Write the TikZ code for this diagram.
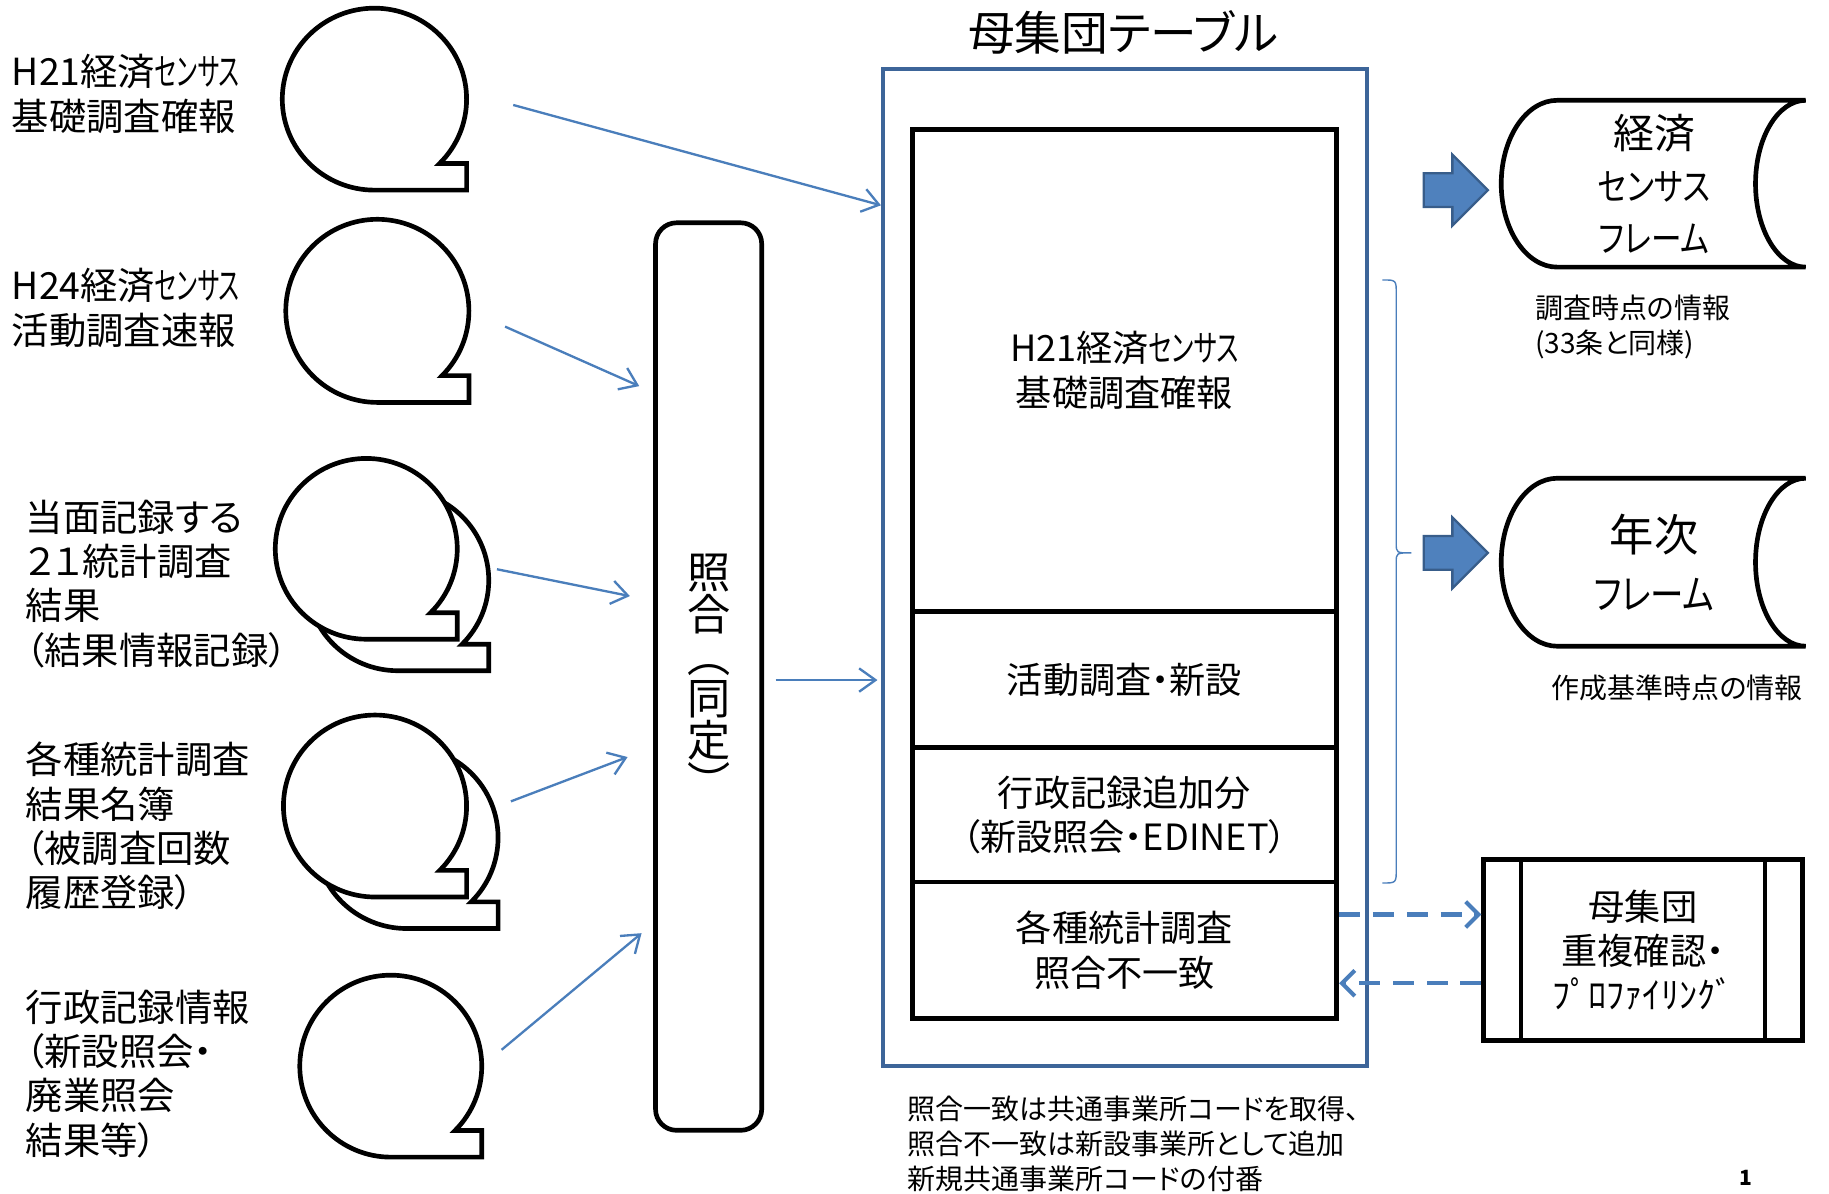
\documentclass[tikz,border=0pt]{standalone}
\usepackage{fontspec}
\usepackage{graphicx}
\setmainfont{Noto Sans CJK JP}[RawFeature=+palt]
\usetikzlibrary{arrows.meta,shapes.arrows}
\definecolor{linkblue}{RGB}{74,126,187}
\definecolor{tableblue}{RGB}{61,101,153}
\definecolor{fillblue}{RGB}{79,129,189}
\definecolor{edgeblue}{RGB}{56,93,138}
\newcommand{\fsz}[2]{\fontsize{#1pt}{#2pt}\selectfont}
\newcommand{\kanacond}[2][0.75]{\scalebox{#1}[1]{#2}}
% speech bubble: centre x, centre y, x radius, y radius
\newcommand{\drawbubble}[4]{%
  \draw[bubble] (#1,#2) ++(45:#3 and #4)
    arc[start angle=45, end angle=-270, x radius=#3, y radius=#4]
    -- ++(#3,0) -- ++(0,-0.2929*#4) -- cycle;}
% stored data frame: top y, bottom y, half height
\newcommand{\drawframe}[3]{%
  \draw[line width=4pt] (1335,#1) -- (1548,#1)
    arc[start angle=270, end angle=90, x radius=43, y radius=#3]
    -- (1335,#2) arc[start angle=90, end angle=270, x radius=48, y radius=#3] -- cycle;}
\begin{document}
\begin{tikzpicture}[x=1pt,y=1pt,yscale=-1,
    arrow/.style = {linkblue, line width=2pt, -{Straight Barb[length=14pt,width=20pt]}},
    dasharrow/.style = {linkblue, line width=3.5pt, dash pattern=on 18pt off 11pt,
      -{Straight Barb[length=11pt,width=22pt]}},
    bubble/.style = {line width=4pt, fill=white, line join=miter},
    cell/.style = {draw, line width=4pt, minimum width=364pt, align=center, font=\fsz{31}{38}},
    srclabel/.style = {anchor=west, inner sep=0pt, align=left, font=\fsz{32}{38}},
    notetext/.style = {anchor=west, inner sep=0pt, align=left, font=\fsz{24}{30}},
    bigarrow/.style = {single arrow, draw=edgeblue, fill=fillblue, line width=2pt,
      inner xsep=0pt, inner ysep=13.5pt, single arrow head extend=16pt,
      minimum height=55pt, anchor=tip}]
  \useasboundingbox (0,0) rectangle (1568,1023);

  \node[srclabel] (src1) at (10,80.5) {H21経済\kanacond[0.62]{センサス}\\基礎調査確報};
  \node[srclabel] (src2) at (10,264) {H24経済\kanacond[0.62]{センサス}\\活動調査速報};
  \node[srclabel] (src3) at (22,500.5) {当面記録する\\２１統計調査\\結果\\（結果情報記録）};
  \node[srclabel] (src4) at (22,708.5) {各種統計調査\\結果名簿\\（被調査回数\\履歴登録）};
  \node[srclabel] (src5) at (22,920.5) {行政記録情報\\（新設照会・\\廃業照会\\結果等）};

  \drawbubble{321}{85}{79}{78}
  \drawbubble{323.5}{266.5}{78.5}{78.5}
  \drawbubble{341}{497.5}{78}{77.5}
  \drawbubble{314}{470.5}{78}{77.5}
  \drawbubble{348.5}{718}{78.5}{78}
  \drawbubble{321.5}{691}{78.5}{78}
  \drawbubble{335}{914}{78}{78}

  \node[draw, line width=4pt, rounded corners=18pt, minimum width=91pt, minimum height=778pt,
    align=center, font=\fsz{37}{36}] (match) at (607.5,580) {照\\合\\︵\\同\\定\\︶};

  \node[font=\fsz{40}{44}] (title) at (963,28) {母集団テーブル};
  \node[draw=tableblue, line width=3.5pt, minimum width=415pt, minimum height=855pt] (tab) at (964.5,486.5) {};
  \node[cell, minimum height=413pt] (cell1) at (964,317.5) {H21経済\kanacond[0.68]{センサス}\\基礎調査確報};
  \node[cell, minimum height=117pt] (cell2) at (964,582.5) {活動調査・新設};
  \node[cell, minimum height=115pt] (cell3) at (964,698.5) {行政記録追加分\\（新設照会・EDINET）};
  \node[cell, minimum height=117pt] (cell4) at (964,814.5) {各種統計調査\\照合不一致};
  \node[notetext] (rule) at (778,981) {照合一致は共通事業所コードを取得、\\照合不一致は新設事業所として追加\\新規共通事業所コードの付番};

  \coordinate (out1) at (440,90);
  \coordinate (out2) at (433,280);
  \coordinate (in2) at (548,331);
  \coordinate (out3) at (426,488);
  \coordinate (in3) at (540,511);
  \coordinate (out4) at (438,687);
  \coordinate (in4) at (538,649);
  \coordinate (out5) at (430,900);
  \coordinate (in5) at (550,800);
  \draw[arrow] (out1) -- (tab.west |- 0,176);
  \draw[arrow] (out2) -- (in2);
  \draw[arrow] (out3) -- (in3);
  \draw[arrow] (out4) -- (in4);
  \draw[arrow] (out5) -- (in5);
  \draw[arrow, shorten <=10pt, shorten >=3pt] (match.east |- 0,583) -- (tab.west |- 0,583);

  \draw[linkblue, line width=1.2pt] (1185,240) .. controls (1197,240) .. (1197,252) -- (1197,466)
    .. controls (1197,474) .. (1210,474) .. controls (1197,474) .. (1197,482) -- (1197,745)
    .. controls (1197,757) .. (1185,757);

  \node[bigarrow] (go1) at (1277,163) {};
  \node[bigarrow] (go2) at (1277,474) {};
  \drawframe{86}{229}{71.5}
  \drawframe{410}{554}{72}
  \node[align=center, font=\fsz{32}{44.5}] (fr1) at (1418,157.5)
    {{\fsz{35}{44.5}経済}\\\kanacond[0.82]{センサス}\\\kanacond[0.82]{フレーム}};
  \node[align=center, font=\fsz{35}{50}] (fr2) at (1418,482)
    {{\fsz{38}{50}年次}\\\kanacond[0.82]{フレーム}};
  \node[notetext] (when1) at (1316,280.5) {調査時点の情報\\(33条と同様)};
  \node[notetext] (when2) at (1330,590) {作成基準時点の情報};

  \node[draw, line width=4pt, minimum width=273pt, minimum height=155pt, align=center,
    font=\fsz{31}{38}] (dup) at (1408.5,814.5) {母集団\\重複確認・\\ﾌﾟﾛﾌｧｲﾘﾝｸﾞ};
  \draw[line width=4pt] ([xshift=34pt]dup.north west) -- ([xshift=34pt]dup.south west);
  \draw[line width=4pt] ([xshift=-34pt]dup.north east) -- ([xshift=-34pt]dup.south east);
  \draw[dasharrow] (cell4.east |- 0,784) -- (dup.west |- 0,784);
  \draw[dasharrow] (dup.west |- 0,843) -- (cell4.east |- 0,843);

  \node[font=\fsz{18}{20}\bfseries] (page) at (1497,1010) {1};
\end{tikzpicture}
\end{document}
